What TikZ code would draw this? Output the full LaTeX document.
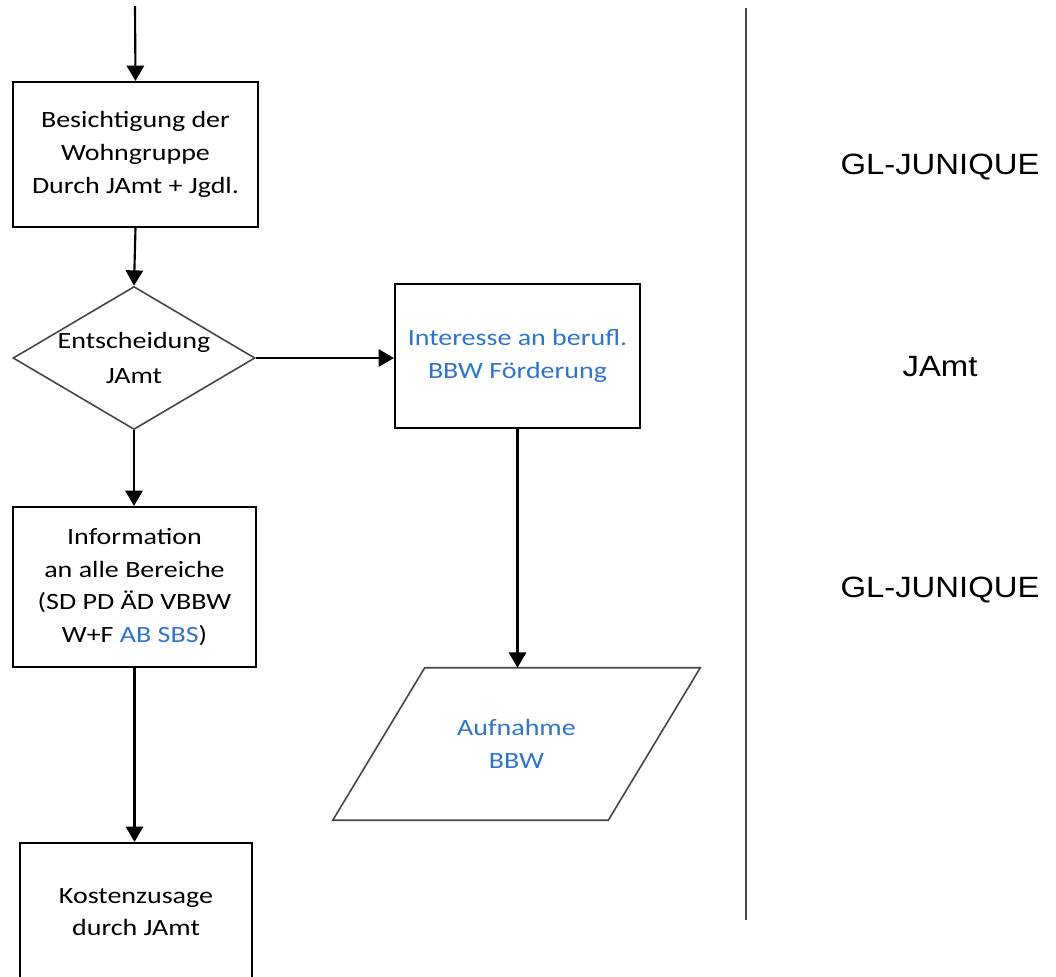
\documentclass[tikz,border=0pt]{standalone}
\usepackage{fontspec}
\setmainfont{Carlito}
\newfontfamily\arialfont{Liberation Sans}
\usetikzlibrary{shapes.geometric,arrows.meta}
\definecolor{wordblue}{RGB}{46,116,200}
\definecolor{linegray}{RGB}{70,70,70}
\newcommand{\hx}[1]{\scalebox{1.2}[1]{#1}}
\newcommand{\ha}[1]{\scalebox{1.12}[1]{#1}}
\begin{document}
\begin{tikzpicture}[x=0.75pt,y=-0.75pt,
  box/.style={draw, line width=1.6pt, rectangle, inner sep=0pt, align=center,
    font=\fontsize{17.5}{24.6}\selectfont},
  flow/.style={line width=1.6pt, -{Triangle[width=13pt,length=11.5pt]}},
  lane/.style={font=\arialfont\fontsize{22}{26}\selectfont}]
\clip (0,0) rectangle (1056,976);
\useasboundingbox (0,0) rectangle (1056,976);

\coordinate (start) at (135,6);
\node[box, minimum width=183.75pt, minimum height=108.75pt] (b1) at (135.5,154.5)
  {\hx{Besichtigung der}\\\hx{Wohngruppe}\\\hx{Durch JAmt + Jgdl.}};
\node[draw=linegray, line width=1.2pt, diamond, inner sep=0pt,
  minimum width=181.5pt, minimum height=107.25pt,
  label={[align=center, font=\fontsize{17.5}{26}\selectfont]center:\hx{Entscheidung}\\\hx{JAmt}}] (d) at (134,358) {};
\node[box, text=wordblue, minimum width=183.75pt, minimum height=108pt] (b2) at (517.5,356)
  {\hx{Interesse an berufl.}\\\hx{BBW Förderung}};
\node[inner sep=0pt, align=center, text=wordblue, font=\fontsize{17.5}{24.6}\selectfont,
  minimum width=206.25pt, minimum height=114pt] (aufn) at (516.5,744)
  {\hx{Aufnahme}\\\hx{BBW}};
\draw[line width=1.2pt, draw=linegray] ([xshift=34.5pt]aufn.north west) -- ([xshift=34.5pt]aufn.north east)
  -- ([xshift=-34.5pt]aufn.south east) -- ([xshift=-34.5pt]aufn.south west) -- cycle;
\node[box, minimum width=182.25pt, minimum height=120pt] (b3) at (134.5,587)
  {\hx{Information}\\\hx{an alle Bereiche}\\\hx{(SD PD ÄD VBBW}\\\hx{W+F \textcolor{wordblue}{AB SBS})}};
\node[box, minimum width=174pt, minimum height=103.5pt] (b4) at (136,912)
  {\hx{Kostenzusage}\\\hx{durch JAmt}};

\draw[flow] (start) -- (b1.north);
\draw[flow] (b1.south) -- (d.north);
\draw[flow] (d.east) -- (b2.west |- d.east);
\draw[flow] (b2.south) -- (b2.south |- aufn.north);
\draw[flow] (d.south) -- (d.south |- b3.north);
\draw[flow] (b3.south) -- (b3.south |- b4.north);

\coordinate (sepTop) at (746,8);
\coordinate (sepBot) at (746,920);
\draw[line width=1.5pt, draw=linegray] (sepTop) -- (sepBot);

\node[lane] (l1) at (940,167) {\ha{GL-JUNIQUE}};
\node[lane] (l2) at (940,367) {\ha{JAmt}};
\node[lane] (l3) at (940,590) {\ha{GL-JUNIQUE}};
\end{tikzpicture}
\end{document}
